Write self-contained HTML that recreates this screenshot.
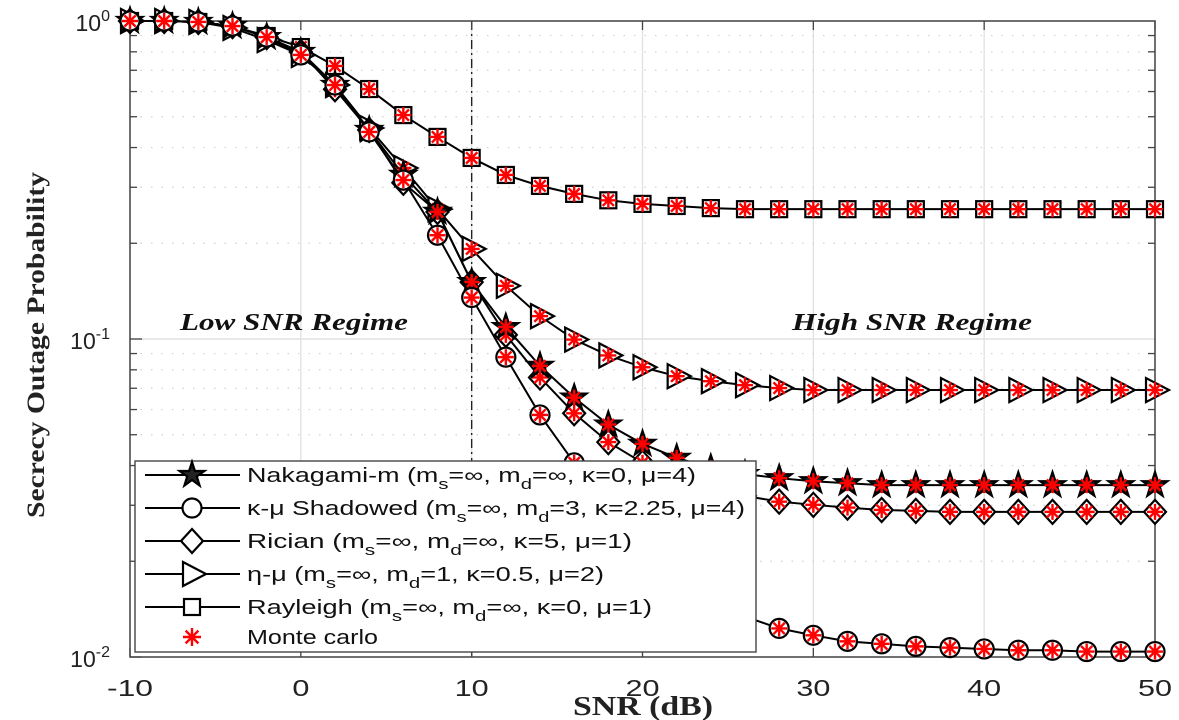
<!DOCTYPE html>
<html><head><meta charset="utf-8"><style>
html,body{margin:0;padding:0;background:#fff;width:1179px;height:720px;overflow:hidden}
svg{display:block}
</style></head><body>
<svg id="chart" width="1179" height="720" xmlns="http://www.w3.org/2000/svg"></svg>
<script>
const snr = [-10,-8,-6,-4,-2,0,2,4,6,8,10,12,14,16,18,20,22,24,26,28,30,32,34,36,38,40,42,44,46,48,50];
const nakagami = [1,1,0.993,0.964,0.89,0.799,0.629,0.454,0.328,0.251,0.151,0.109,0.0823,0.0654,0.0538,0.0468,0.0423,0.0393,0.0376,0.0365,0.0357,0.0352,0.0347,0.0347,0.0347,0.0347,0.0347,0.0347,0.0347,0.0347,0.0347];
const kappaMu = [1,1,0.993,0.964,0.89,0.782,0.629,0.448,0.316,0.212,0.135,0.0877,0.0577,0.0408,0.029,0.022,0.0177,0.0151,0.0134,0.0123,0.0117,0.0112,0.011,0.0108,0.0107,0.0106,0.0105,0.0105,0.0104,0.0104,0.0104];
const rician = [1,1,0.993,0.964,0.89,0.799,0.61,0.454,0.31,0.251,0.151,0.103,0.0757,0.0584,0.0474,0.0408,0.0365,0.0341,0.0321,0.0308,0.0301,0.0295,0.029,0.0288,0.0286,0.0286,0.0286,0.0286,0.0286,0.0286,0.0286];
const etaMu = [1,1,0.993,0.951,0.871,0.782,0.629,0.461,0.345,0.256,0.192,0.147,0.118,0.0996,0.0888,0.0815,0.0764,0.0737,0.0716,0.0701,0.0691,0.0691,0.0691,0.0691,0.0691,0.0691,0.0691,0.0691,0.0691,0.0691,0.0691];
const rayleigh = [1,1,0.993,0.964,0.897,0.828,0.722,0.611,0.506,0.432,0.371,0.328,0.303,0.286,0.273,0.266,0.262,0.258,0.256,0.256,0.256,0.256,0.256,0.256,0.256,0.256,0.256,0.256,0.256,0.256,0.256];
const xTicks = [-10,0,10,20,30,40,50];
const yExps = [0,-1,-2];

const NS="http://www.w3.org/2000/svg";
const svg=document.getElementById('chart');
const L=130,R=1155,T=21,B=657;
const xS=v=>L+(v+10)/60*(R-L);
const yS=v=>T+(-Math.log10(v))/2*(B-T);
function mk(tag,attrs,parent){const e=document.createElementNS(NS,tag);for(const k in attrs)e.setAttribute(k,attrs[k]);(parent||svg).appendChild(e);return e;}

const grid=mk('g',{});


for(const t of xTicks){mk('line',{x1:xS(t),x2:xS(t),y1:T,y2:B,stroke:'#e0e0e0','stroke-width':1.3},grid);}
for(let d=0;d<2;d++){for(let m=1;m<=10;m++){const v=Math.pow(10,-d-1)*m;const y=yS(v);
 if(m===1||m===10) mk('line',{x1:L,x2:R,y1:y,y2:y,stroke:'#e0e0e0','stroke-width':1.3},grid);
 else {mk('line',{x1:L,x2:R,y1:y,y2:y,stroke:'#d0d0d0','stroke-width':1.2,'stroke-dasharray':'1.5 9'},grid);
  mk('line',{x1:L,x2:L+7,y1:y,y2:y,stroke:'#444','stroke-width':1.3},grid);
  mk('line',{x1:R-7,x2:R,y1:y,y2:y,stroke:'#444','stroke-width':1.3},grid);}
}}
const dv=mk('line',{x1:xS(10),x2:xS(10),y1:T,y2:B,stroke:'#222','stroke-width':1.4,'stroke-dasharray':'9 4 2 4'});



const fr=mk('rect',{x:L,y:T,width:R-L,height:B-T,fill:'none',stroke:'#444','stroke-width':1.5});


for(const t of xTicks){mk('line',{x1:xS(t),x2:xS(t),y1:B,y2:B-9,stroke:'#444','stroke-width':1.3});mk('line',{x1:xS(t),x2:xS(t),y1:T,y2:T+9,stroke:'#444','stroke-width':1.3});
 const s=String(t);const len=s.replace('-','').length*17+(s[0]==='-'?12:0);
 const tx=mk('text',{x:xS(t),y:B+39,'text-anchor':'middle','font-family':'Liberation Sans, sans-serif','font-size':23,fill:'#222',textLength:len,lengthAdjust:'spacingAndGlyphs'});tx.textContent=s;
 
 }
for(const e of yExps){const y=yS(Math.pow(10,e));mk('line',{x1:L,x2:L+12,y1:y,y2:y,stroke:'#444','stroke-width':1.3});
 const tx=mk('text',{x:L-20,y:y+10,'text-anchor':'end','font-family':'Liberation Sans, sans-serif','font-size':23,fill:'#222'});
 tx.textContent='10';const s=mk('tspan',{dy:-10,'font-size':16},tx);s.textContent=String(e);
 
 }

let t1=mk('text',{x:294,y:330,'text-anchor':'middle','font-family':'Liberation Serif, serif','font-size':24,'font-weight':'bold','font-style':'italic',fill:'#111',textLength:228,lengthAdjust:'spacingAndGlyphs'});t1.textContent='Low SNR Regime';


let t2=mk('text',{x:912,y:330,'text-anchor':'middle','font-family':'Liberation Serif, serif','font-size':24,'font-weight':'bold','font-style':'italic',fill:'#111',textLength:240,lengthAdjust:'spacingAndGlyphs'});t2.textContent='High SNR Regime';


let xl=mk('text',{x:643,y:715,'text-anchor':'middle','font-family':'Liberation Serif, serif','font-size':27,'font-weight':'bold',fill:'#222',textLength:140,lengthAdjust:'spacingAndGlyphs'});xl.textContent='SNR (dB)';


let yl=mk('text',{x:0,y:0,'text-anchor':'middle','font-family':'Liberation Serif, serif','font-size':25,'font-weight':'bold',fill:'#222',transform:'translate(44,345) rotate(-90)',textLength:346,lengthAdjust:'spacingAndGlyphs'});yl.textContent='Secrecy Outage Probability';



function marker(type,cx,cy,g){
 const st={fill:'#fff',stroke:'#000','stroke-width':2.2};
 if(type==='square') mk('rect',Object.assign({x:cx-8,y:cy-8,width:16,height:16},st),g);
 else if(type==='circle') mk('circle',Object.assign({cx:cx,cy:cy,r:9.5},st),g);
 else if(type==='diamond') mk('polygon',Object.assign({points:`${cx},${cy-12} ${cx+11},${cy} ${cx},${cy+12} ${cx-11},${cy}`},st),g);
 else if(type==='triangle') mk('polygon',Object.assign({points:`${cx-9},${cy-12} ${cx+14},${cy} ${cx-9},${cy+12}`},st),g);
 else if(type==='star'){let p=[];for(let i=0;i<10;i++){const r=i%2?5:13;const a=-Math.PI/2+i*Math.PI/5;p.push((cx+r*Math.cos(a)).toFixed(1)+','+(cy+r*Math.sin(a)).toFixed(1));}
  mk('polygon',Object.assign({points:p.join(' ')},st,{fill:'#222'}),g);}
}
function aster(cx,cy,g,r){r=r||8;for(let i=0;i<4;i++){const a=i*Math.PI/4;mk('line',{x1:cx-r*Math.cos(a),y1:cy-r*Math.sin(a),x2:cx+r*Math.cos(a),y2:cy+r*Math.sin(a),stroke:'#f00','stroke-width':2.4},g);}}
const series=[['rayleigh',rayleigh,'square'],['eta-mu',etaMu,'triangle'],['rician',rician,'diamond'],['nakagami',nakagami,'star'],['kappa-mu',kappaMu,'circle']];
for(const [name,vals,type] of series){
 const g=mk('g',{});
 
 
 mk('polyline',{points:snr.map((s,i)=>xS(s)+','+yS(vals[i])).join(' '),fill:'none',stroke:'#000','stroke-width':2},g);
 snr.forEach((s,i)=>{marker(type,xS(s),yS(vals[i]),g);aster(xS(s),yS(vals[i]),g);});
}

const lg=mk('g',{});


mk('rect',{x:135,y:461,width:621,height:191,fill:'#fff',stroke:'#444','stroke-width':1.4},lg);
const legItems=[['star','Nakagami-m (m','s','=∞, m','d','=∞, κ=0, μ=4)',449],['circle','κ-μ Shadowed (m','s','=∞, m','d','=3, κ=2.25, μ=4)',498],['diamond','Rician  (m','s','=∞, m','d','=∞, κ=5, μ=1)',385],['triangle','η-μ (m','s','=∞, m','d','=1, κ=0.5, μ=2)',357],['square','Rayleigh (m','s','=∞, m','d','=∞, κ=0, μ=1)',405]];
legItems.forEach((it,i)=>{const y=475+i*33;const g=mk('g',{},lg);
 
 
 mk('line',{x1:145,x2:240,y1:y,y2:y,stroke:'#000','stroke-width':2},g);marker(it[0],192,y,g);
 const tx=mk('text',{x:247,y:y+7,'font-family':'Liberation Sans, sans-serif','font-size':20,fill:'#111',textLength:it[6],lengthAdjust:'spacingAndGlyphs'},g);
 const a=mk('tspan',{},tx);a.textContent=it[1];const b=mk('tspan',{dy:7,'font-size':15},tx);b.textContent=it[2];
 const c=mk('tspan',{dy:-7},tx);c.textContent=it[3];const d=mk('tspan',{dy:7,'font-size':15},tx);d.textContent=it[4];
 const e=mk('tspan',{dy:-7},tx);e.textContent=it[5];});
const gm=mk('g',{},lg);


aster(192,637,gm,9);
const mt=mk('text',{x:247,y:644,'font-family':'Liberation Sans, sans-serif','font-size':20,fill:'#111',textLength:131,lengthAdjust:'spacingAndGlyphs'},gm);mt.textContent='Monte carlo';
</script>
</body></html>
